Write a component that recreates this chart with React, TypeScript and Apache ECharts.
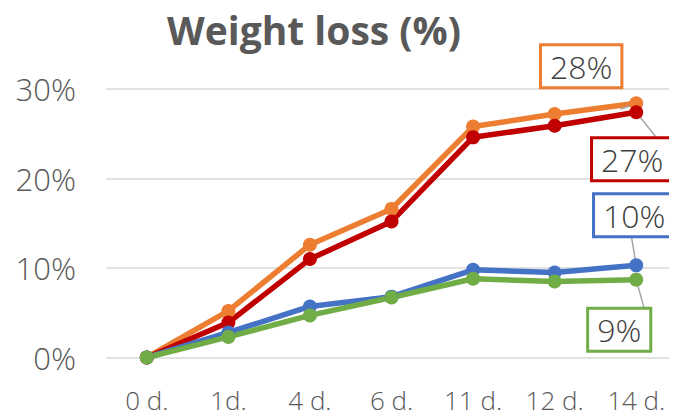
import React, { useEffect, useRef } from "react";
import * as echarts from "echarts";

const categories = ["0 d.", "1d.", "4 d.", "6 d.", "11 d.", "12 d.", "14 d."];
const orangeValues = [0, 5.2, 12.6, 16.6, 25.8, 27.2, 28.4];
const redValues = [0, 3.9, 11.0, 15.2, 24.6, 25.9, 27.4];
const blueValues = [0, 2.8, 5.7, 6.8, 9.8, 9.5, 10.3];
const greenValues = [0, 2.3, 4.7, 6.7, 8.8, 8.5, 8.7];
const yTicks = [0, 10, 20, 30];

const FONT = "'Open Sans', sans-serif";

export default function App() {
  const ref = useRef<HTMLDivElement>(null);
  useEffect(() => {
    const chart = echarts.init(ref.current!, undefined, { renderer: "svg" });
    const mk = (name: string, color: string, values: number[], offset: number[]) => ({
      name,
      type: "line",
      symbol: "circle",
      symbolSize: 14,
      lineStyle: { width: 5.5, color },
      itemStyle: { color },
      labelLine: { show: true, lineStyle: { color: "#a6a6a6", width: 1.5 } },
      data: values.map((v, i) =>
        i === values.length - 1
          ? {
              value: v,
              label: {
                show: true,
                position: "inside",
                offset,
                formatter: (p: any) => `${Math.round(p.value)}%`,
                fontFamily: FONT,
                fontWeight: 300,
                fontSize: 32,
                lineHeight: 36,
                color: "#404040",
                backgroundColor: "#ffffff",
                borderColor: color,
                borderWidth: 3,
                padding: [3, 8, 1, 8],
              },
            }
          : v
      ),
    });
    chart.setOption({
      animation: false,
      backgroundColor: "#ffffff",
      title: {
        text: "Weight loss (%)",
        left: 162,
        top: 4,
        textStyle: { fontFamily: FONT, fontSize: 39, lineHeight: 40, fontWeight: "bold", color: "#595959" },
      },
      grid: { left: 106, right: -3, top: 89, bottom: 59.5 },
      xAxis: {
        type: "category",
        data: categories,
        boundaryGap: true,
        axisLine: { show: false },
        axisTick: { show: false },
        axisLabel: { fontFamily: FONT, fontWeight: 300, fontSize: 26, color: "#595959", margin: 29 },
      },
      yAxis: {
        type: "value",
        min: yTicks[0],
        max: yTicks[yTicks.length - 1],
        interval: 10,
        axisLine: { show: false },
        axisTick: { show: false },
        splitLine: { lineStyle: { color: "#d9d9d9", width: 1.5 } },
        axisLabel: {
          fontFamily: FONT,
          fontWeight: 300,
          fontSize: 31,
          color: "#595959",
          margin: 30,
          formatter: "{value}%",
        },
      },
      series: [
        mk("orange", "#ED7D31", orangeValues, [-55, -37]),
        mk("red", "#C00000", redValues, [-4, 47]),
        mk("blue", "#4472C4", blueValues, [-2, -50]),
        mk("green", "#70AD47", greenValues, [-17, 50]),
      ],
    });
    return () => chart.dispose();
  }, []);
  return <div ref={ref} style={{ width: 677, height: 417, marginLeft: -8, marginTop: -8 }} />;
}
